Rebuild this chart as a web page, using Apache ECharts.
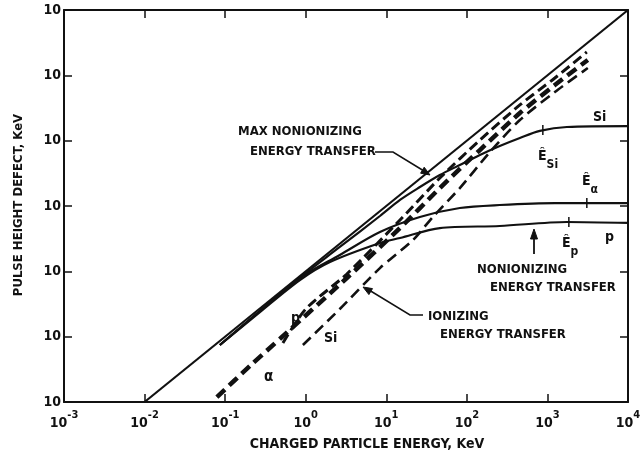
<!DOCTYPE html>
<html>
<head>
<meta charset="utf-8">
<script src="https://cdn.jsdelivr.net/npm/echarts@6/dist/echarts.min.js"></script>
<style>
html,body{margin:0;padding:0;background:#fff;}
#c{width:644px;height:455px;}
</style>
</head>
<body>
<div id="c"></div>
<script>
// ---- data (keV) ----
const xTickValues = [0.001, 0.01, 0.1, 1, 10, 100, 1000, 10000];
const yTickValues = [0.01, 0.1, 1, 10, 100, 1000, 10000];
const yTickLabel = '10';

const maxNonionizing = [[0.01, 0.01], [10000, 10000]];

const pNonionizing = [[0.086,0.0745],[0.27,0.238],[0.847,0.736],[2.0,1.39],[8.34,2.72],[14.8,3.24],[46.2,4.6],[256,4.94],[1742,5.69],[10000,5.5]];
const alphaNonionizing = [[0.086,0.0745],[0.27,0.247],[0.847,0.791],[2.65,1.78],[8.34,4.0],[26.1,6.79],[81.8,9.31],[256,10.35],[1236,11.1],[10000,11.1]];
const siNonionizing = [[0.086,0.0745],[0.27,0.247],[0.847,0.80],[2.65,2.36],[8.34,7.03],[14.8,12.4],[26.1,19.5],[46.2,29.8],[81.8,42.4],[145,60.4],[256,82.8],[455,110],[805,141],[1742,162],[10000,167]];

const alphaIonizing = [[0.079,0.0119],[0.203,0.0356],[0.507,0.0989],[3.24,0.791],[14.8,4.6],[46.2,18.8],[145,71.9],[455,265],[1236,711],[3170,1718]];
const pIonizing = [[0.521,0.08],[1.0,0.265],[3.24,0.91],[14.8,6.11],[46.2,26.8],[145,102],[455,352],[1236,910],[3083,2275]];
const siIonizing = [[0.923,0.0745],[2.65,0.265],[8.34,1.12],[21.4,3.01],[37.8,6.79],[81.8,18.8],[193,67.0],[455,207],[1236,556],[3170,1294]];

// characteristic energies (Ê) marked on the nonionizing curves
const eHatSi = [877, 146];
const eHatAlpha = [3083, 11.1];
const eHatP = [1845, 5.7];

// ---- chart ----
const FONT = "'DejaVu Sans Condensed','Liberation Sans Narrow','DejaVu Sans',sans-serif";
const INK = '#111';
const chart = echarts.init(document.getElementById('c'), null, {renderer: 'canvas'});

function solid(name, data, w) {
  return {name, type: 'line', data, showSymbol: false, smooth: 0.3, animation: false,
    lineStyle: {color: INK, width: w, type: 'solid'}, z: 3};
}
function dashed(name, data, w, dash) {
  return {name, type: 'line', data, showSymbol: false, smooth: 0.25, animation: false,
    lineStyle: {color: INK, width: w, type: dash, cap: 'butt'}, z: 2};
}

const axisCommon = {
  type: 'log', logBase: 10,
  axisLine: {show: true, lineStyle: {color: INK, width: 2}},
  axisTick: {show: true, inside: true, length: 8, lineStyle: {color: INK, width: 1.5}},
  splitLine: {show: false}, minorTick: {show: false}
};

const option = {
  backgroundColor: '#fff',
  animation: false,
  grid: {left: 64, right: 16, top: 10, bottom: 53},
  xAxis: [
    Object.assign({}, axisCommon, {
      position: 'bottom', min: xTickValues[0], max: xTickValues[xTickValues.length-1], splitNumber: 7,
      axisLabel: {
        margin: 8, color: INK,
        formatter: v => '{b|10}{s|' + Math.round(Math.log10(v)) + '}',
        rich: {
          b: {fontFamily: FONT, fontSize: 14, fontWeight: 'bold', color: INK, lineHeight: 20, verticalAlign: 'bottom'},
          s: {fontFamily: FONT, fontSize: 11, fontWeight: 'bold', color: INK, lineHeight: 20, verticalAlign: 'top'}
        }
      }
    }),
    Object.assign({}, axisCommon, {
      position: 'top', min: xTickValues[0], max: xTickValues[xTickValues.length-1], splitNumber: 7,
      axisLabel: {show: false}
    })
  ],
  yAxis: [
    Object.assign({}, axisCommon, {
      position: 'left', min: yTickValues[0], max: yTickValues[yTickValues.length-1], splitNumber: 6,
      axisLabel: {margin: 3, color: INK, fontFamily: FONT, fontSize: 14, fontWeight: 'bold', formatter: () => yTickLabel}
    }),
    Object.assign({}, axisCommon, {
      position: 'right', min: yTickValues[0], max: yTickValues[yTickValues.length-1], splitNumber: 6,
      axisLabel: {show: false}
    })
  ],
  series: [
    solid('MAX NONIONIZING', maxNonionizing, 2.2),
    solid('p nonionizing', pNonionizing, 2.2),
    solid('α nonionizing', alphaNonionizing, 2.2),
    solid('Si nonionizing', siNonionizing, 2.2),
    dashed('α ionizing', alphaIonizing, 4.5, [11, 6]),
    dashed('p ionizing', pIonizing, 3, [10, 5]),
    dashed('Si ionizing', siIonizing, 2.6, [11, 6])
  ]
};
chart.setOption(option);

// ---- annotations ----
function txt(x, y, text, size, align, extra) {
  return Object.assign({type: 'text', x, y, silent: true, z: 10,
    style: {text, fill: INK, font: 'bold ' + size + 'px ' + FONT, textAlign: align || 'left', textVerticalAlign: 'middle'}}, extra || {});
}
function poly(points, w) {
  return {type: 'polyline', silent: true, z: 10, shape: {points}, style: {stroke: INK, lineWidth: w || 1.5, fill: null}};
}
function head(points) {
  return {type: 'polygon', silent: true, z: 10, shape: {points}, style: {fill: INK, stroke: INK, lineWidth: 1}};
}
function eHatMark(pt) {
  const p = chart.convertToPixel({gridIndex: 0}, pt);
  return {type: 'line', silent: true, z: 10, shape: {x1: p[0], y1: p[1]-5, x2: p[0], y2: p[1]+5}, style: {stroke: INK, lineWidth: 1.5}};
}
const hatRich = {
  e: {fontFamily: FONT, fontSize: 14, fontWeight: 'bold', fill: INK, verticalAlign: 'top', lineHeight: 22},
  sub: {fontFamily: FONT, fontSize: 12, fontWeight: 'bold', fill: INK, verticalAlign: 'bottom', lineHeight: 22}
};
function hatLabel(x, y, sub) {
  return {type: 'text', x, y, silent: true, z: 10,
    style: {text: '{e|Ê}{sub|' + sub + '}', rich: hatRich, textAlign: 'left', textVerticalAlign: 'middle'}};
}

chart.setOption({graphic: [
  // axis titles
  txt(19, 205, 'PULSE HEIGHT DEFECT, KeV', 13, 'center', {rotation: Math.PI/2}),
  txt(367, 444, 'CHARGED PARTICLE ENERGY, KeV', 14, 'center'),
  // max nonionizing
  txt(238, 132, 'MAX NONIONIZING', 13),
  txt(250, 152, 'ENERGY TRANSFER', 13),
  poly([[375,152],[393,152],[424,171]], 1.5),
  head([[430,175],[420.6,173.2],[424.2,167.2]]),
  // nonionizing
  txt(477, 270, 'NONIONIZING', 13),
  txt(490, 288, 'ENERGY TRANSFER', 13),
  poly([[534,254],[534,237]], 1.8),
  head([[534,229],[530.5,239],[537.5,239]]),
  // ionizing
  txt(428, 317, 'IONIZING', 13),
  txt(440, 335, 'ENERGY TRANSFER', 13),
  poly([[423,315],[410,315],[369,290]], 1.5),
  head([[363,287],[372.5,288.6],[368.9,294.6]]),
  // curve labels
  txt(593, 117, 'Si', 14),
  txt(605, 237, 'p', 14),
  txt(291, 318, 'p', 14),
  txt(324, 338, 'Si', 14),
  txt(264, 377, 'α', 15),
  hatLabel(538, 160, 'Si'),
  hatLabel(582, 185, 'α'),
  hatLabel(562, 247, 'p'),
  eHatMark(eHatSi), eHatMark(eHatAlpha), eHatMark(eHatP)
]});
</script>
</body>
</html>
